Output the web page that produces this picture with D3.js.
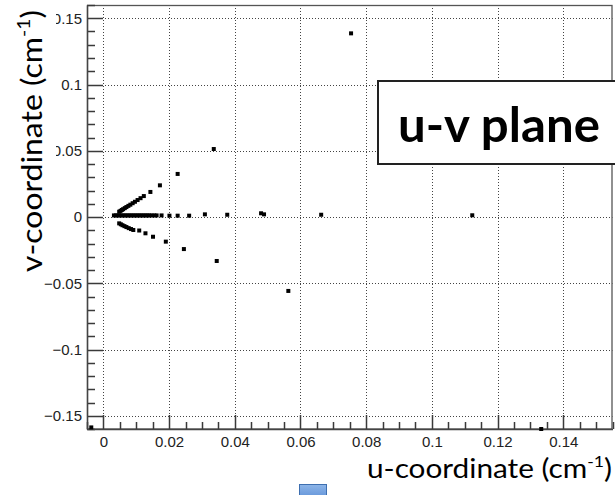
<!DOCTYPE html>
<html>
<head>
<meta charset="utf-8">
<script src="https://cdn.jsdelivr.net/npm/d3@7"></script>
<style>
  html, body { margin: 0; padding: 0; background: #fff; }
  svg { display: block; }
</style>
</head>
<body>
<svg id="chart" width="615" height="495"></svg>
<script>
// Hit positions in the u-v plane (cm^-1)
const upperArmU = [0.0048, 0.0052, 0.0056, 0.0060, 0.0065, 0.0070, 0.0076, 0.0082, 0.0089, 0.0096, 0.0104, 0.0113, 0.0123, 0.0143, 0.0172, 0.0226, 0.0336, 0.0754];
const upperArmV = [0.0040, 0.0046, 0.0053, 0.0059, 0.0067, 0.0075, 0.0084, 0.0093, 0.0104, 0.0115, 0.0128, 0.0142, 0.0158, 0.0189, 0.0239, 0.0325, 0.0513, 0.1386];

const lowerArmU = [0.0048, 0.0053, 0.0058, 0.0064, 0.0070, 0.0077, 0.0084, 0.0091, 0.0109, 0.0128, 0.0151, 0.0190, 0.0245, 0.0345, 0.0563, 0.1333];
const lowerArmV = [-0.0048, -0.0055, -0.0062, -0.0069, -0.0076, -0.0084, -0.0091, -0.0098, -0.0102, -0.0123, -0.0149, -0.0186, -0.0242, -0.0332, -0.0558, -0.1600];

const axisArmU = [0.0032, 0.0038, 0.0044, 0.0050, 0.0056, 0.0062, 0.0068, 0.0074, 0.0080, 0.0086, 0.0092, 0.0098, 0.0104, 0.0110, 0.0116, 0.0122, 0.0128, 0.0134, 0.0140, 0.0147, 0.0155, 0.0162, 0.0177, 0.0201, 0.0226, 0.0261, 0.0309, 0.0377, 0.0480, 0.0489, 0.0663, 0.1123, -0.0037];
const axisArmV = [0.0012, 0.0012, 0.0012, 0.0012, 0.0012, 0.0012, 0.0012, 0.0012, 0.0012, 0.0012, 0.0012, 0.0012, 0.0012, 0.0012, 0.0012, 0.0012, 0.0012, 0.0012, 0.0012, 0.0012, 0.0012, 0.0012, 0.0012, 0.0010, 0.0010, 0.0010, 0.0020, 0.0017, 0.0028, 0.0020, 0.0017, 0.0013, -0.1588];

// Axis ticks
const uMajorTicks = [0, 0.02, 0.04, 0.06, 0.08, 0.10, 0.12, 0.14];
const uTickLabels = ["0", "0.02", "0.04", "0.06", "0.08", "0.1", "0.12", "0.14"];
const vMajorTicks = [-0.15, -0.10, -0.05, 0, 0.05, 0.10, 0.15];
const vTickLabels = ["\u22120.15", "\u22120.1", "\u22120.05", "0", "0.05", "0.1", "0.15"];
const uMinorStep = 0.005;
const vMinorStep = 0.01;

const uDomain = [-0.005, 0.155];
const vDomain = [-0.16, 0.16];

const plotLabel = "u-v plane";
const uTitle = ["u-coordinate (cm", "-1", ")"];
const vTitle = ["v-coordinate (cm", "-1", ")"];

const points = [];
[[upperArmU, upperArmV], [lowerArmU, lowerArmV], [axisArmU, axisArmV]].forEach(([us, vs]) => {
  us.forEach((u, i) => points.push({ u: u, v: vs[i] }));
});

const svg = d3.select("#chart");
const frameL = 87, frameR = 612.5, frameT = 5, frameB = 429;

const x = d3.scaleLinear().domain(uDomain).range([frameL, frameR]);
const y = d3.scaleLinear().domain(vDomain).range([frameB, frameT]);

const uMinor = d3.range(-0.005, 0.1551, uMinorStep).map(d => +d.toFixed(3));
const vMinor = d3.range(-0.16, 0.1601, vMinorStep).map(d => +d.toFixed(2));
const snap = v => Math.round(v) + 0.5;
const isMajor = (list, d) => list.some(t => Math.abs(t - d) < 1e-9);

// Dotted grid at the major ticks
const grid = svg.append("g").attr("stroke", "#444").attr("stroke-width", 1)
  .attr("stroke-dasharray", "1 2").attr("fill", "none");
grid.selectAll("line.gu").data(uMajorTicks).join("line").attr("class", "gu")
  .attr("x1", d => snap(x(d))).attr("x2", d => snap(x(d)))
  .attr("y1", frameT).attr("y2", frameB);
grid.selectAll("line.gv").data(vMajorTicks).join("line").attr("class", "gv")
  .attr("x1", frameL).attr("x2", frameR)
  .attr("y1", d => snap(y(d))).attr("y2", d => snap(y(d)));

// Frame
svg.append("rect")
  .attr("x", frameL + 0.5).attr("y", frameT + 0.5)
  .attr("width", frameR - frameL - 1).attr("height", frameB - frameT - 0.5)
  .attr("fill", "none").attr("stroke", "#555").attr("stroke-width", 1.3);

// Inward tick marks along the bottom and left axes, drawn as one path each
const uTickPath = uMinor.map(d => {
  const len = isMajor(uMajorTicks, d) ? 14 : 7;
  return `M${snap(x(d))},${frameB}V${frameB - len}`;
}).join("");
const vTickPath = vMinor.map(d => {
  const len = isMajor(vMajorTicks, d) ? 16 : 8;
  return `M${frameL},${snap(y(d))}H${frameL + len}`;
}).join("");
svg.append("path").attr("d", uTickPath).attr("fill", "none")
  .attr("stroke", "#3a3a3a").attr("stroke-width", 1.5);
svg.append("path").attr("d", vTickPath).attr("fill", "none")
  .attr("stroke", "#3a3a3a").attr("stroke-width", 1.5);

// Tick labels through the axis generators
const xAxis = d3.axisBottom(x).tickValues(uMajorTicks)
  .tickFormat((d, i) => uTickLabels[i]).tickSize(0).tickPadding(7);
const gx = svg.append("g").attr("transform", `translate(0,${frameB})`).call(xAxis);
const yAxis = d3.axisLeft(y).tickValues(vMajorTicks)
  .tickFormat((d, i) => vTickLabels[i]).tickSize(0).tickPadding(5);
const gy = svg.append("g").attr("transform", `translate(${frameL},0)`).call(yAxis);
[gx, gy].forEach(g => {
  g.select(".domain").attr("stroke", "#444").attr("stroke-width", 1.4);
  g.selectAll(".tick line").remove();
  g.selectAll(".tick text")
    .attr("font-family", "'Liberation Sans', Arial, sans-serif")
    .attr("font-size", 15).attr("fill", "#222");
});

// Hits
const s = 4;
svg.append("g").selectAll("rect").data(points).join("rect")
  .attr("x", d => x(d.u) - s / 2).attr("y", d => y(d.v) - s / 2)
  .attr("width", s).attr("height", s)
  .attr("fill", "#000");

// Label box
svg.append("rect")
  .attr("x", 378).attr("y", 81).attr("width", 250).attr("height", 83)
  .attr("fill", "#fff").attr("stroke", "#222").attr("stroke-width", 2);
svg.append("text")
  .attr("x", 398).attr("y", 141.5)
  .attr("font-family", "Lato, 'Open Sans', sans-serif").attr("font-weight", 700)
  .attr("font-size", 48).attr("fill", "#000")
  .attr("textLength", 202).attr("lengthAdjust", "spacingAndGlyphs")
  .text(plotLabel);

// u-axis title
const ut = svg.append("text")
  .attr("x", 367).attr("y", 478)
  .attr("font-family", "Lato, 'Open Sans', sans-serif")
  .attr("font-size", 27).attr("fill", "#000")
  .attr("textLength", 245).attr("lengthAdjust", "spacingAndGlyphs");
ut.append("tspan").text(uTitle[0]);
ut.append("tspan").attr("font-size", 16).attr("dy", -11).text(uTitle[1]);
ut.append("tspan").attr("dy", 11).text(uTitle[2]);

// v-axis title on a white panel
svg.append("rect").attr("x", 0).attr("y", 0).attr("width", 56).attr("height", 274).attr("fill", "#fff");
const vt = svg.append("text")
  .attr("transform", "translate(42,272) rotate(-90)")
  .attr("font-family", "Lato, 'Open Sans', sans-serif")
  .attr("font-size", 28).attr("fill", "#000")
  .attr("textLength", 262).attr("lengthAdjust", "spacingAndGlyphs");
vt.append("tspan").text(vTitle[0]);
vt.append("tspan").attr("font-size", 17).attr("dy", -12).text(vTitle[1]);
vt.append("tspan").attr("dy", 12).text(vTitle[2]);

// Small blue shape below the axis
const defs = svg.append("defs");
const grad = defs.append("linearGradient").attr("id", "blueFill")
  .attr("x1", 0).attr("y1", 0).attr("x2", 0).attr("y2", 1);
grad.append("stop").attr("offset", "0%").attr("stop-color", "#8db5e8");
grad.append("stop").attr("offset", "100%").attr("stop-color", "#4f85d2");
svg.append("rect")
  .attr("x", 299.5).attr("y", 484.5).attr("width", 27).attr("height", 20)
  .attr("fill", "url(#blueFill)").attr("stroke", "#3e6fb0").attr("stroke-width", 1);
</script>
</body>
</html>
